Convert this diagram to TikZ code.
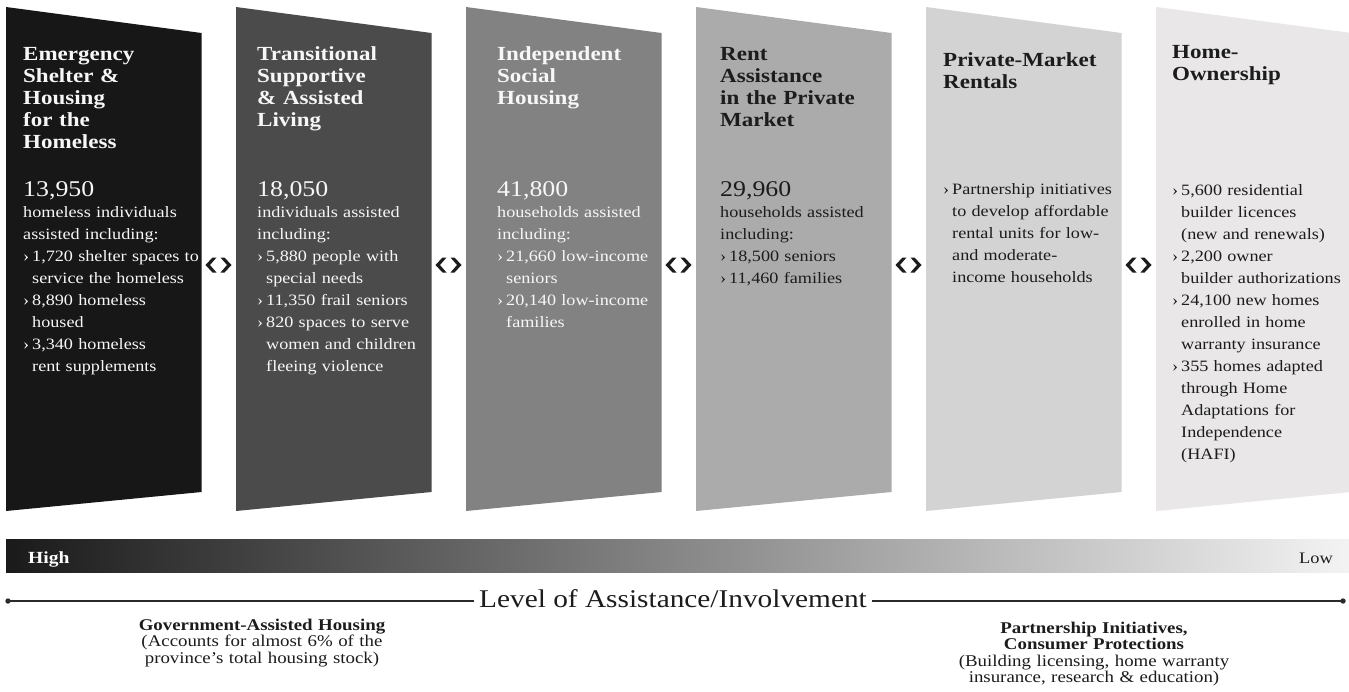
\documentclass[tikz,border=0pt]{standalone}
\usepackage{fontspec}
\setmainfont{Liberation Serif}[FakeStretch=1.15]
\usetikzlibrary{calc}

% panel fills, darkest (most assistance) to lightest
\definecolor{pA}{HTML}{171717}
\definecolor{pB}{HTML}{4B4B4B}
\definecolor{pC}{HTML}{828282}
\definecolor{pD}{HTML}{ABABAB}
\definecolor{pE}{HTML}{D3D3D3}
\definecolor{pF}{HTML}{E9E7E7}
\definecolor{txtL}{HTML}{F7F7F7}
\definecolor{txtD}{HTML}{1C1C1C}
\definecolor{barL}{HTML}{1A1A1A}
\definecolor{barR}{HTML}{F3F3F3}
\definecolor{axisc}{HTML}{2A2A2A}

\newcommand\bul{\makebox[9pt][l]{›}}
\newcommand\ind{\hspace*{9pt}}

\tikzset{
  ttl/.style={anchor=base west, inner sep=0pt, text width=200pt, align=left,
    font=\bfseries\fontsize{20}{22}\selectfont},
  num/.style={anchor=base west, inner sep=0pt, font=\fontsize{22.5}{24}\selectfont},
  body/.style={anchor=base west, inner sep=0pt, text width=200pt, align=left,
    font=\fontsize{15.8}{22}\selectfont},
  foot/.style={anchor=base, inner sep=0pt, text width=340pt, align=center,
    text=txtD, font=\fontsize{16.4}{16.5}\selectfont},
  chevrons/.pic={
    \fill[txtD] (-2,-7.5) -- (-6,-7.5) -- (-13,0) -- (-6,7.5) -- (-2,7.5) -- (-8.5,0) -- cycle;
    \fill[txtD] (2,-7.5) -- (6,-7.5) -- (13,0) -- (6,7.5) -- (2,7.5) -- (8.5,0) -- cycle;
  }
}

\begin{document}
\begin{tikzpicture}[x=1pt,y=-1pt]
\useasboundingbox (0,0) rectangle (1349,691);
\fill[white] (0,0) rectangle (1349,691);

% slanted panels
\foreach \i/\c in {0/pA,1/pB,2/pC,3/pD,4/pE}{
  \fill[\c] ({6+230*\i},7) -- ({201.5+230*\i},33) -- ({201.5+230*\i},492) -- ({6+230*\i},511) -- cycle;
}
\fill[pF] (1156,7) -- (1349,32.7) -- (1349,492.2) -- (1156,511) -- cycle;

% panel 1
\node[ttl, text=txtL] (t1) at (23,60) {Emergency\newline Shelter \&\newline Housing\newline for the\newline Homeless};
\node[num, text=txtL] (n1) at (23,196) {13,950};
\node[body, text=txtL] (b1) at (23,217) {homeless individuals\newline assisted including:\newline
  \bul 1,720 shelter spaces to\newline \ind service the homeless\newline
  \bul 8,890 homeless\newline \ind housed\newline
  \bul 3,340 homeless\newline \ind rent supplements};

% panel 2
\node[ttl, text=txtL] (t2) at (257,60) {Transitional\newline Supportive\newline \& Assisted\newline Living};
\node[num, text=txtL] (n2) at (257,196) {18,050};
\node[body, text=txtL] (b2) at (257,217) {individuals assisted\newline including:\newline
  \bul 5,880 people with\newline \ind special needs\newline
  \bul 11,350 frail seniors\newline
  \bul 820 spaces to serve\newline \ind women and children\newline \ind fleeing violence};

% panel 3
\node[ttl, text=txtL] (t3) at (497,60) {Independent\newline Social\newline Housing};
\node[num, text=txtL] (n3) at (497,196) {41,800};
\node[body, text=txtL] (b3) at (497,217) {households assisted\newline including:\newline
  \bul 21,660 low-income\newline \ind seniors\newline
  \bul 20,140 low-income\newline \ind families};

% panel 4
\node[ttl, text=txtD] (t4) at (720,60) {Rent\newline Assistance\newline in the Private\newline Market};
\node[num, text=txtD] (n4) at (720,196) {29,960};
\node[body, text=txtD] (b4) at (720,217) {households assisted\newline including:\newline
  \bul 18,500 seniors\newline
  \bul 11,460 families};

% panel 5
\node[ttl, text=txtD] (t5) at (943,66) {Private-Market\newline Rentals};
\node[body, text=txtD] (b5) at (943,194) {\bul Partnership initiatives\newline
  \ind to develop affordable\newline \ind rental units for low-\newline
  \ind and moderate-\newline \ind income households};

% panel 6
\node[ttl, text=txtD] (t6) at (1172,58) {Home-\newline Ownership};
\node[body, text=txtD] (b6) at (1172,195) {\bul 5,600 residential\newline
  \ind builder licences\newline \ind (new and renewals)\newline
  \bul 2,200 owner\newline \ind builder authorizations\newline
  \bul 24,100 new homes\newline \ind enrolled in home\newline \ind warranty insurance\newline
  \bul 355 homes adapted\newline \ind through Home\newline \ind Adaptations for\newline
  \ind Independence\newline \ind (HAFI)};

% two-way markers between neighbouring panels
\foreach \k in {0,...,4}{
  \coordinate (m\k) at ({218.5+230*\k},265);
  \pic at (m\k) {chevrons};
}

% assistance gradient bar
\shade[left color=barL, right color=barR] (6,539) rectangle (1349,572);
\node[anchor=base west, inner sep=0pt, text=white, font=\bfseries\fontsize{17}{17}\selectfont] (high) at (28,563) {High};
\node[anchor=base east, inner sep=0pt, text=txtD, font=\fontsize{16}{16}\selectfont] (low) at (1333,563) {Low};

% axis line with its title
\node[anchor=base, inner xsep=5pt, inner ysep=0pt, text=txtD, font=\fontsize{25.5}{26}\selectfont] (lvl) at (673,607.5) {Level of Assistance/Involvement};
\coordinate (ldot) at (8,601);
\coordinate (rdot) at (1343,601);
\draw[axisc, line width=1.1pt] (ldot) -- (ldot -| lvl.west);
\draw[axisc, line width=1.1pt] (rdot -| lvl.east) -- (rdot);
\fill[axisc] (ldot) circle (2.7);
\fill[axisc] (rdot) circle (2.7);

% captions under the axis
\node[foot] (gov) at (262,630) {\textbf{Government-Assisted Housing}\\(Accounts for almost 6\% of the\\province’s total housing stock)};
\node[foot] (prt) at (1094,633) {\textbf{Partnership Initiatives,}\\\textbf{Consumer Protections}\\(Building licensing, home warranty\\insurance, research \& education)};
\end{tikzpicture}
\end{document}
